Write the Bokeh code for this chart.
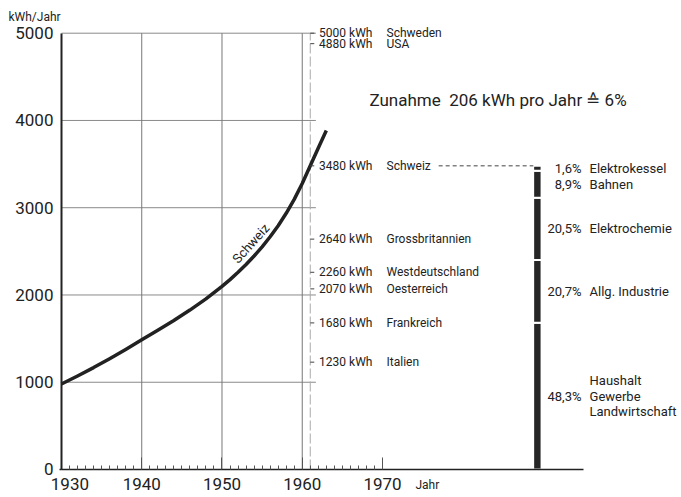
from bokeh.plotting import figure
from bokeh.models import FixedTicker
from bokeh.core.properties import value
from bokeh.embed import file_html
from bokeh.resources import INLINE

FONT = "Roboto"
INK = "#222222"

# --- data -------------------------------------------------------------
years = [1930, 1932, 1934, 1936, 1938, 1940, 1942, 1944, 1946, 1948, 1950,
         1951, 1952, 1953, 1954, 1955, 1956, 1957, 1958, 1959, 1960, 1961,
         1962, 1963]
schweiz = [980, 1072, 1168, 1270, 1376, 1487, 1596, 1708, 1827, 1955, 2098,
           2176, 2260, 2350, 2447, 2552, 2667, 2794, 2936, 3096, 3278, 3480,
           3685, 3885]

x_ticks = [1930, 1940, 1950, 1960, 1970]
x_minor = [y for y in range(1931, 1970) if y % 10 != 0]
y_ticks = [0, 1000, 2000, 3000, 4000, 5000]

countries = ["Schweden", "USA", "Schweiz", "Grossbritannien", "Westdeutschland",
             "Oesterreich", "Frankreich", "Italien"]
country_kwh = [5000, 4880, 3480, 2640, 2260, 2070, 1680, 1230]
ref_year = 1961

sectors = ["Haushalt\nGewerbe\nLandwirtschaft", "Allg. Industrie", "Elektrochemie",
           "Bahnen", "Elektrokessel"]
shares = [48.3, 20.7, 20.5, 8.9, 1.6]
share_labels = ["48,3%", "20,7%", "20,5%", "8,9%", "1,6%"]
total_kwh = 3480

headline = "Zunahme\u00a0 206 kWh pro Jahr \u2259 6%"

# --- figure -----------------------------------------------------------
p = figure(width=681, height=497, x_range=(1922.40, 2007.26), y_range=(-320.9, 5374.7),
           output_backend="svg", toolbar_location=None,
           min_border_left=0, min_border_right=0, min_border_top=0,
           min_border_bottom=0)
p.outline_line_color = None
p.xgrid.visible = False
p.ygrid.visible = False
p.background_fill_color = "white"
p.border_fill_color = "white"

# left axis (drawn at 1930)
ya = p.yaxis[0]
ya.fixed_location = x_ticks[0]
ya.ticker = FixedTicker(ticks=y_ticks)
ya.bounds = (0, 5000)
ya.axis_line_width = 2
ya.axis_line_color = INK
ya.major_tick_in = 0
ya.major_tick_out = 0
ya.minor_tick_in = 0
ya.minor_tick_out = 0
ya.major_label_text_font = FONT
ya.major_label_text_font_size = "17px"
ya.major_label_text_color = INK
ya.major_label_standoff = 8

# bottom axis (drawn at 0)
xa = p.xaxis[0]
xa.fixed_location = 0
xa.ticker = FixedTicker(ticks=x_ticks, minor_ticks=x_minor)
xa.bounds = (1929.7, 1995.1)
xa.axis_line_width = 1.5
xa.axis_line_color = INK
xa.major_tick_in = 12
xa.major_tick_out = 0
xa.major_tick_line_color = "#555555"
xa.minor_tick_in = 4
xa.minor_tick_out = 0
xa.minor_tick_line_color = "#555555"
xa.major_label_text_font = FONT
xa.major_label_text_font_size = "17px"
xa.major_label_text_color = INK
xa.major_label_standoff = 5
xa.major_label_overrides = {1930: "\u00a0\u00a0\u00a0\u00a01930"}

# grid lines
gy = y_ticks[1:]
p.segment(x0=[x_ticks[0]] * len(gy), x1=[1961.7] * len(gy), y0=gy, y1=gy,
          line_color="#8a8a8a", line_width=1)
gx = x_ticks[1:4]
p.segment(x0=gx, x1=gx, y0=[0] * len(gx), y1=[5000] * len(gx),
          line_color="#777777", line_width=1)

# reference year dashed line
p.segment(x0=[ref_year], x1=[ref_year], y0=[0], y1=[5000],
          line_color="#aaaaaa", line_width=1, line_dash="10 3")

# curve
p.line(years, schweiz, line_color=INK, line_width=3.5, line_join="round")
p.text(x=[1953.6], y=[2590], text=["Schweiz"], angle=0.84,
       text_font=value(FONT), text_font_size="13px", text_color=INK,
       text_align="center", text_baseline="middle")

# country markers
p.segment(x0=[ref_year] * len(country_kwh), x1=[ref_year + 0.5] * len(country_kwh),
          y0=country_kwh, y1=country_kwh, line_color="#444444", line_width=1)
p.text(x=[1962.1] * len(country_kwh), y=country_kwh,
       text=[f"{v} kWh" for v in country_kwh],
       text_font=value(FONT), text_font_size="12px", text_color=INK,
       text_baseline="middle")
p.text(x=[1970.5] * len(countries), y=country_kwh, text=countries,
       text_font=value(FONT), text_font_size="12px", text_color=INK,
       text_baseline="middle")

# headline
p.text(x=[1984.4], y=[4229], text=[headline], text_font=value(FONT),
       text_font_size="17px", text_color=INK, text_align="center",
       text_baseline="middle")

# stacked bar
bar_x = 1989.3
tops, bottoms, mids = [], [], []
acc = 0.0
for s in shares:
    b = acc
    acc += s
    bottoms.append(total_kwh * b / 100.0)
    tops.append(total_kwh * acc / 100.0)
    mids.append(total_kwh * (b + acc) / 200.0)
p.vbar(x=[bar_x] * len(shares), width=1.05, bottom=bottoms, top=tops,
       fill_color="#262626", line_color="white", line_width=2)

# connector from Schweiz label to bar
p.segment(x0=[1977.0], x1=[bar_x - 0.5], y0=[total_kwh], y1=[total_kwh],
          line_color="#444444", line_width=1, line_dash="4 3")

p.text(x=[1994.8] * len(shares), y=mids, text=share_labels,
       text_font=value(FONT), text_font_size="13px", text_color=INK,
       text_align="right", text_baseline="middle")
p.text(x=[1995.8] * len(sectors), y=mids, text=sectors,
       text_font=value(FONT), text_font_size="13px", text_color=INK,
       text_align="left", text_baseline="middle", text_line_height=1.05)

# unit labels
p.text(x=[1923.4], y=[5191], text=["kWh/Jahr"], text_font=value(FONT),
       text_font_size="12px", text_color=INK, text_baseline="middle")
p.text(x=[1974.1], y=[-183], text=["Jahr"], text_font=value(FONT),
       text_font_size="12px", text_color=INK, text_baseline="middle")

open("out.html", "w").write(file_html(p, INLINE))
